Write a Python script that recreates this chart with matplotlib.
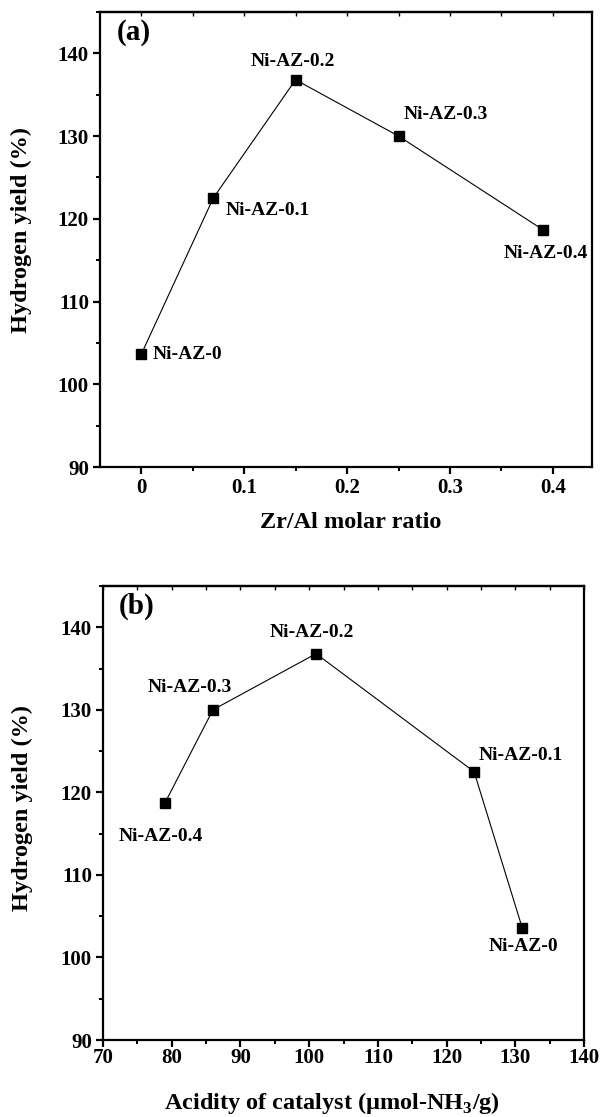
import matplotlib
matplotlib.use("Agg")
import matplotlib.pyplot as plt
from matplotlib.ticker import MultipleLocator, NullFormatter

plt.rcParams['font.family'] = ['Liberation Serif', 'DejaVu Serif']
plt.rcParams['font.weight'] = 'bold'
plt.rcParams['mathtext.fontset'] = 'custom'
plt.rcParams['mathtext.rm'] = 'Liberation Serif:bold'
plt.rcParams['mathtext.bf'] = 'Liberation Serif:bold'

# data
names = ['Ni-AZ-0', 'Ni-AZ-0.1', 'Ni-AZ-0.2', 'Ni-AZ-0.3', 'Ni-AZ-0.4']
zr_al = [0.0, 0.07, 0.15, 0.25, 0.39]
acidity = [131, 124, 101, 86, 79]
h2_yield = [103.6, 122.5, 136.8, 130.0, 118.7]

# label offsets in pixels (dx, dy), dy up
offs_a = [(11, 0), (12, -12), (-3, 18), (47, 22), (3, -24)]
ha_a = ['left', 'left', 'center', 'center', 'center']
offs_b = [(1, -19), (47, 16), (-4, 21), (-23, 22), (-4, -33)]

fig = plt.figure(figsize=(6, 11.17), dpi=100)
ax1 = fig.add_axes([0.1667, 0.5819, 0.82, 0.4074])
ax2 = fig.add_axes([0.1717, 0.0689, 0.8017, 0.4065])


def style(ax, xmaj, xmin):
    for s in ax.spines.values():
        s.set_linewidth(1.6)
    ax.xaxis.set_major_locator(MultipleLocator(xmaj))
    ax.xaxis.set_minor_locator(MultipleLocator(xmin))
    ax.yaxis.set_major_locator(MultipleLocator(10))
    ax.yaxis.set_minor_locator(MultipleLocator(5))
    ax.tick_params(which='major', direction='out', length=5, width=1.6,
                   labelsize=15, pad=3)
    ax.tick_params(which='minor', direction='out', length=3, width=1.4)
    # small inward ticks along the top edge
    top = ax.secondary_xaxis('top')
    top.xaxis.set_major_locator(MultipleLocator(xmaj))
    top.xaxis.set_minor_locator(MultipleLocator(xmin))
    top.xaxis.set_major_formatter(NullFormatter())
    top.tick_params(which='both', direction='in', length=3, width=1.0)
    top.spines['top'].set_linewidth(1.6)
    for t in ax.get_xticklabels() + ax.get_yticklabels():
        t.set_fontweight('bold')


ax1.plot(zr_al, h2_yield, color='black', lw=0.8, marker='s', ms=6.5,
         mfc='black', mec='black')
ax1.set_xlim(-0.04, 0.438)
ax1.set_ylim(90, 145)
style(ax1, 0.1, 0.05)
ax1.set_xticks([0, 0.1, 0.2, 0.3, 0.4])
ax1.set_xticklabels(['0', '0.1', '0.2', '0.3', '0.4'], fontweight='bold')
ax1.tick_params(axis='x', which='major', pad=3)
for n, x, y, o, h in zip(names, zr_al, h2_yield, offs_a, ha_a):
    ax1.annotate(n, (x, y), xytext=o, textcoords='offset pixels',
                 ha=h, va='center', fontsize=14, fontweight='bold')
ax1.text(0.033, 0.955, '(a)', transform=ax1.transAxes, fontsize=21,
         fontweight='bold', va='center', ha='left')
ax1.set_xlabel('Zr/Al molar ratio', fontsize=17.5, fontweight='bold')
ax1.set_ylabel('Hydrogen yield (%)', fontsize=17.5, fontweight='bold')
ax1.xaxis.set_label_coords(0.51, -0.121)
ax1.xaxis.label.set_va('center')
ax1.yaxis.set_label_coords(-0.159, 0.52)
ax1.yaxis.label.set_va('center')

ax2.plot(acidity, h2_yield, color='black', lw=0.8, marker='s', ms=6.5,
         mfc='black', mec='black')
ax2.set_xlim(70, 140)
ax2.set_ylim(90, 145)
style(ax2, 10, 5)
ax2.tick_params(axis='x', which='major', pad=1)
for n, x, y, o in zip(names, acidity, h2_yield, offs_b):
    ax2.annotate(n, (x, y), xytext=o, textcoords='offset pixels',
                 ha='center', va='center', fontsize=14, fontweight='bold')
ax2.text(0.033, 0.955, '(b)', transform=ax2.transAxes, fontsize=21,
         fontweight='bold', va='center', ha='left')
ax2.set_xlabel(r'Acidity of catalyst (μmol-NH$_3$/g)', fontsize=17.5,
               fontweight='bold')
ax2.set_ylabel('Hydrogen yield (%)', fontsize=17.5, fontweight='bold')
ax2.xaxis.set_label_coords(0.475, -0.139)
ax2.xaxis.label.set_va('center')
ax2.yaxis.set_label_coords(-0.168, 0.51)
ax2.yaxis.label.set_va('center')

fig.savefig('out.png', dpi=100)
